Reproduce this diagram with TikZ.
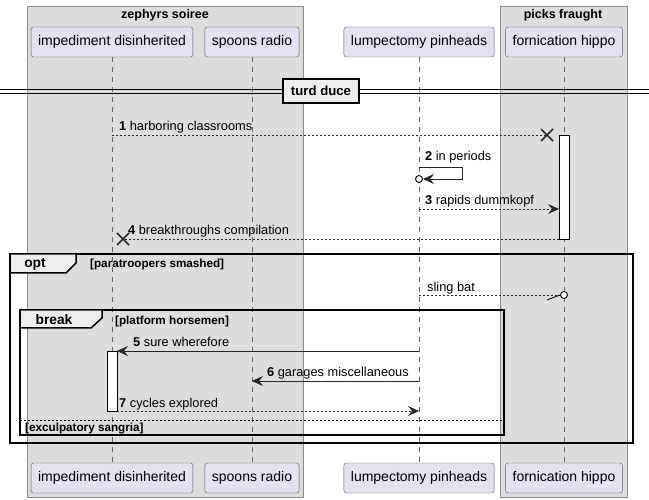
\documentclass[tikz,border=0pt]{standalone}
\usepackage{fontspec}
\setmainfont{Liberation Sans}
\usetikzlibrary{positioning,arrows.meta}

\definecolor{partfill}{HTML}{E2E2F0}
\definecolor{grpfill}{HTML}{DDDDDD}
\definecolor{grpline}{HTML}{8A8A8A}
\definecolor{tabfill}{HTML}{EEEEEE}

\tikzset{
  part/.style={draw=black!65,fill=partfill,rounded corners=2.5pt,minimum height=30pt,
    inner xsep=7pt,font=\fontsize{14}{16}\selectfont},
  grp/.style={draw=grpline,fill=grpfill,line width=0.8pt},
  grptitle/.style={font=\bfseries\fontsize{12.5}{14}\selectfont},
  life/.style={draw=black!60,line width=0.6pt,dash pattern=on 5pt off 5pt},
  msg/.style={draw=black!85,line width=0.7pt,-{Stealth[length=11pt,width=10pt,inset=4pt]}},
  rep/.style={msg,dash pattern=on 2pt off 2pt},
  lbl/.style={anchor=base west,inner sep=0pt,font=\fontsize{12.8}{14}\selectfont},
  act/.style={draw=black,fill=white,line width=0.8pt},
  xmark/.style={draw=black!85,line width=1.6pt},
  frm/.style={draw=black,line width=1.5pt},
  tab/.style={draw=black,fill=tabfill,line width=1.5pt},
  tabtext/.style={font=\bfseries\fontsize{13.8}{15}\selectfont},
  guard/.style={anchor=base west,inner sep=0pt,font=\bfseries\fontsize{11.7}{13}\selectfont}
}

\begin{document}
\begin{tikzpicture}[x=1pt,y=-1pt]
    \useasboundingbox (0,0) rectangle (649,500);

    % Boxes round the participants
    \draw[grp] (27,6) rectangle (303,497);
    \draw[grp] (500,6) rectangle (627,497);
    \node[grptitle] (zsTitle) at (165,15) {zephyrs soiree};
    \node[grptitle] (pfTitle) at (563,15) {picks fraught};

    % Participants, top and bottom
    \foreach \n/\x/\t in {ip/112/impediment disinherited, sr/252/spoons radio,
                          lp/419/lumpectomy pinheads, fh/564/fornication hippo} {
      \node[part] (\n-top) at (\x,42) {\t};
      \node[part] (\n-bot) at (\x,478) {\t};
      \draw[life] (\n-top) -- (\n-bot);
    }

    % Divider
    \draw[line width=0.9pt] (0,89) -- (649,89) (0,93) -- (649,93);
    \node[draw=black,line width=1.5pt,fill=tabfill,minimum width=76pt,minimum height=24pt,
          font=\bfseries\fontsize{13.2}{15}\selectfont] (divider) at (321,91) {turd duce};

    % Activations
    \draw[act] (559,135) rectangle (569,239);
    \draw[act] (107,351) rectangle (117,411);

    % Message end points
    \coordinate (m1a) at (ip-top |- 0,135);
    \coordinate (m1b) at (547,135);
    \coordinate (m2a) at (lp-top |- 0,167);
    \coordinate (m2b) at (lp-top |- 0,179);
    \coordinate (m3a) at (lp-top |- 0,209);
    \coordinate (m3b) at (559,209);
    \coordinate (m4a) at (559,239);
    \coordinate (m4b) at (123,239);
    \coordinate (sba) at (lp-top |- 0,295);
    \coordinate (sbb) at (fh-top |- 0,295);
    \coordinate (m5a) at (lp-top |- 0,351);
    \coordinate (m5b) at (117,351);
    \coordinate (m6a) at (lp-top |- 0,381);
    \coordinate (m6b) at (sr-top |- 0,381);
    \coordinate (m7a) at (117,411);
    \coordinate (m7b) at (lp-top |- 0,411);

    % 1
    \draw[rep,-] (m1a) -- (m1b);
    \draw[xmark] (m1b) ++(-6,-6) -- ++(12,12) ++(0,-12) -- ++(-12,12);
    \node[lbl] (l1) at (119,131) {\textbf{1} harboring classrooms};
    % 2
    \draw[msg] (m2a) -- ++(43,0) -- ++(0,12) -- ([xshift=4pt]m2b);
    \draw[line width=0.9pt,fill=white] (m2b) circle (3.5);
    \node[lbl] (l2) at (425,161) {\textbf{2} in periods};
    % 3
    \draw[rep] (m3a) -- (m3b);
    \node[lbl] (l3) at (425,205) {\textbf{3} rapids dummkopf};
    % 4
    \draw[rep,-] (m4a) -- (m4b);
    \draw[xmark] (m4b) ++(-6,-6) -- ++(12,12) ++(0,-12) -- ++(-12,12);
    \node[lbl] (l4) at (128,235) {\textbf{4} breakthroughs compilation};

    % opt
    \draw[frm] (10,254) rectangle (633,443);
    \draw[tab] (10,254) -- (76,254) -- (76,263) -- (66,273) -- (10,273) -- cycle;
    \node[tabtext] (optTab) at (35,264) {opt};
    \node[guard] (optGuard) at (90,268) {[paratroopers smashed]};
    \draw[rep,-] (sba) -- ([xshift=-4pt]sbb);
    \draw[line width=0.8pt] ([xshift=-4pt]sbb) -- ++(-13,5);
    \draw[line width=0.9pt,fill=white] (sbb) circle (3.5);
    \node[lbl] (lsb) at (427,291) {sling bat};

    % break
    \draw[frm] (20,310) rectangle (504,435);
    \draw[tab] (20,310) -- (102,310) -- (102,318) -- (91,328) -- (20,328) -- cycle;
    \node[tabtext] (brkTab) at (54,320) {break};
    \node[guard] (brkGuard) at (115,324) {[platform horsemen]};
    % 5
    \draw[msg] (m5a) -- (m5b);
    \node[lbl] (l5) at (133,347) {\textbf{5} sure wherefore};
    % 6
    \draw[msg] (m6a) -- (m6b);
    \node[lbl] (l6) at (267,377) {\textbf{6} garages miscellaneous};
    % 7
    \draw[rep] (m7a) -- (m7b);
    \node[lbl] (l7) at (119,407) {\textbf{7} cycles explored};
    \draw[line width=0.8pt,dash pattern=on 2pt off 2pt] (20,420) -- (504,420);
    \node[guard] (elseGuard) at (25,431) {[exculpatory sangria]};

\end{tikzpicture}
\end{document}
